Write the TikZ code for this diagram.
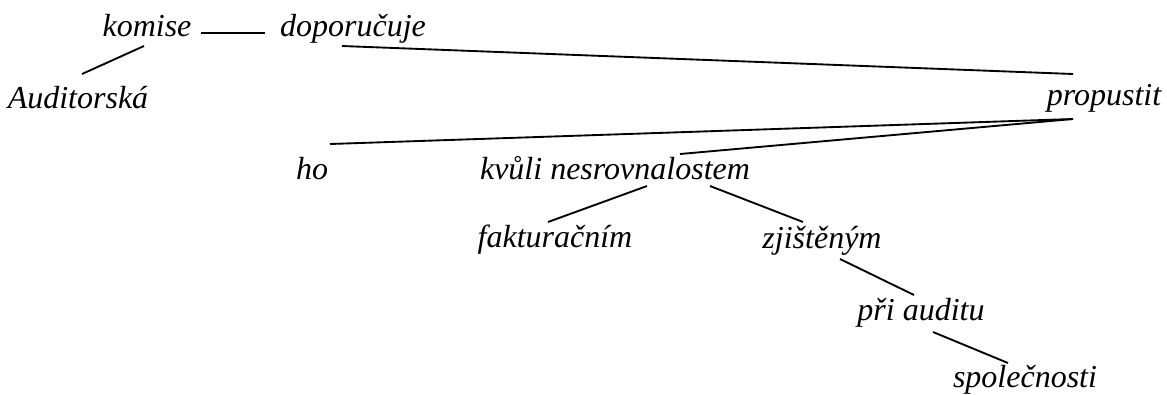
\documentclass[tikz,border=0pt]{standalone}
\usepackage{fontspec}
\setmainfont{Liberation Serif}[ItalicFont={Liberation Serif Italic}]
\newfontfamily\wordfont{Liberation Serif Italic}
\usepackage{tikz}
\usetikzlibrary{calc}
\tikzset{word/.style={font=\fontsize{24}{28}\wordfont,anchor=base,inner sep=2pt},
  edge/.style={line width=1.4pt}}
\begin{document}
\begin{tikzpicture}[x=0.75pt,y=-0.75pt]
        \useasboundingbox (0,0) rectangle (1167,394);
        % words
        \node[word] (komise) at (147,36) {komise};
        \node[word] (doporucuje) at (353,36) {doporučuje};
        \node[word] (auditorska) at (78,108) {Auditorská};
        \node[word] (propustit) at (1104,105) {propustit};
        \node[word] (ho) at (312,179) {ho};
        \node[word] (kvuli) at (615,179) {kvůli nesrovnalostem};
        \node[word] (fakturacnim) at (555,247) {fakturačním};
        \node[word] (zjistenym) at (822,248) {zjištěným};
        \node[word] (priauditu) at (921,320) {při auditu};
        \node[word] (spolecnosti) at (1025,387) {společnosti};
        % links
        \draw[edge] ($(komise.base)+(54,-3)$) -- ($(doporucuje.base)+(-88,-3)$);
        \draw[edge] ($(komise.base)+(-3,10)$) -- ($(auditorska.base)+(4,-34)$);
        \draw[edge] ($(doporucuje.base)+(-11,10)$) -- ($(propustit.base)+(-31,-31)$);
        \draw[edge] ($(propustit.base)+(-31,14)$) -- ($(ho.base)+(18,-35)$);
        \draw[edge] ($(propustit.base)+(-31,14)$) -- ($(kvuli.base)+(65,-25)$);
        \draw[edge] ($(kvuli.base)+(32,7)$) -- ($(fakturacnim.base)+(-7,-25)$);
        \draw[edge] ($(kvuli.base)+(95,7)$) -- ($(zjistenym.base)+(-19,-26)$);
        \draw[edge] ($(zjistenym.base)+(18,11)$) -- ($(priauditu.base)+(-7,-25)$);
        \draw[edge] ($(priauditu.base)+(12,12)$) -- ($(spolecnosti.base)+(-17,-24)$);
\end{tikzpicture}
\end{document}
